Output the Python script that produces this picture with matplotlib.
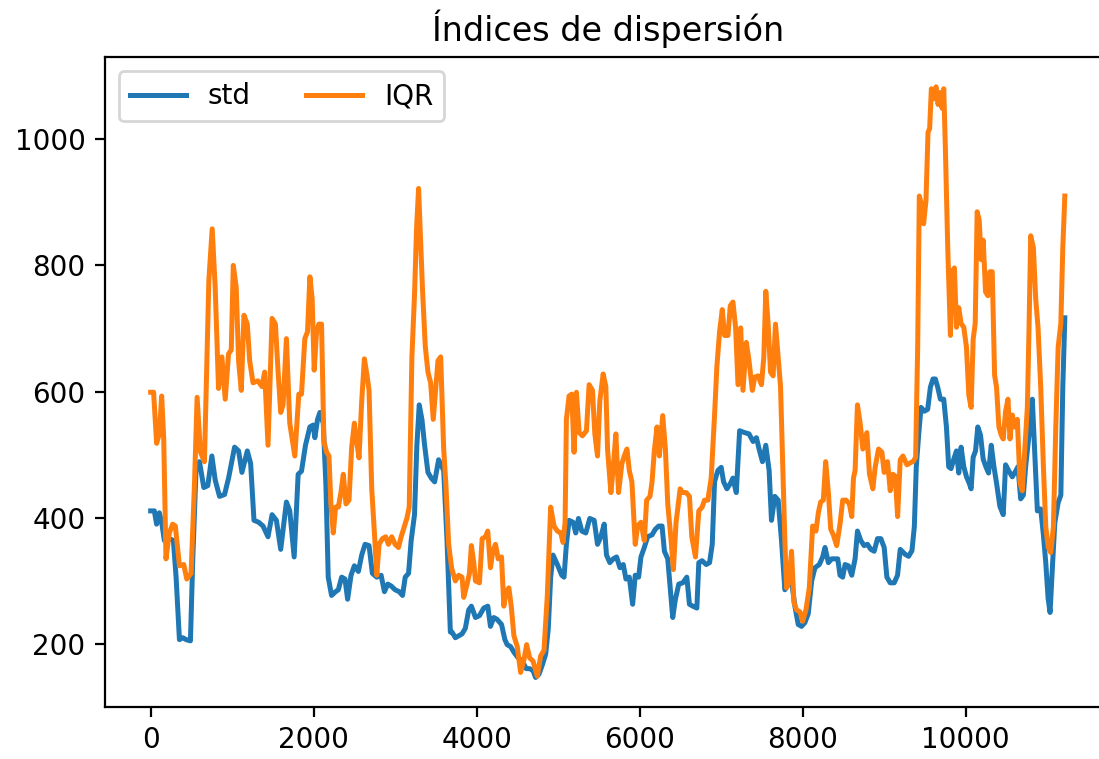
import matplotlib
matplotlib.use('Agg')
import matplotlib.pyplot as plt

# Datos (índice de muestra, valor)
std_x = [0, 45, 73, 106, 135, 168, 229, 279, 312, 353, 394, 435, 488, 517, 558, 599, 652, 701, 751, 792,
         845, 907, 956, 1030, 1079, 1120, 1186, 1227, 1268, 1325, 1379, 1440, 1490, 1543, 1596, 1666, 1707, 1761, 1810,
         1851, 1900, 1954, 1995, 2015, 2048, 2077, 2118, 2151, 2179, 2220, 2270, 2303, 2344, 2385, 2417, 2459, 2500,
         2549, 2590, 2631, 2680, 2721, 2775, 2828, 2869, 2910, 2951, 3000, 3050, 3091, 3124, 3165, 3197, 3238, 3267,
         3296, 3329, 3362, 3403, 3444, 3485, 3534, 3596, 3637, 3678,
         3698, 3739, 3780, 3821, 3862, 3903, 3936, 3986, 4035, 4088, 4137, 4170, 4211, 4252, 4306, 4347, 4375, 4417,
         4458, 4511, 4560, 4609, 4651, 4692, 4724, 4765, 4807, 4848, 4880, 4909, 4938, 4991, 5045, 5073, 5102, 5135,
         5184, 5217, 5250, 5291, 5340, 5389, 5443, 5484,
         5525, 5566, 5594, 5635, 5677, 5718, 5759, 5800, 5833, 5874, 5915, 5947, 5988, 6017, 6058, 6099, 6153, 6194,
         6235, 6276, 6305, 6346, 6374, 6407, 6440, 6481, 6530, 6580, 6612, 6654, 6703, 6727, 6768, 6818, 6859, 6892,
         6920, 6961, 7002, 7031, 7072, 7113, 7146, 7187, 7228, 7290, 7343,
         7393, 7434, 7467, 7508, 7549, 7590, 7619, 7660, 7701, 7742, 7783, 7824, 7865, 7906, 7947, 7988, 8029, 8070,
         8112, 8153, 8206, 8247, 8276, 8317, 8358, 8399, 8432, 8460, 8493, 8522, 8563, 8604, 8645, 8674, 8715, 8756,
         8797, 8838, 8879, 8920, 8961, 9002, 9035, 9076, 9125, 9166, 9199,
         9261, 9302, 9343, 9372, 9396, 9425, 9454, 9495, 9536, 9569, 9601, 9630, 9659, 9692, 9733, 9766, 9794, 9823,
         9856, 9889, 9917, 9946, 9979, 10012, 10045, 10069, 10094, 10123, 10151, 10184, 10217, 10250, 10283, 10316,
         10349, 10381, 10422, 10463, 10492, 10533, 10574, 10615, 10644, 10677, 10710, 10738, 10779, 10820, 10849,
         10882, 10923, 10956, 10985, 11014, 11038, 11067, 11096, 11137, 11170, 11194, 11219]
std_y = [411, 411, 390, 408, 393, 364, 367, 364, 306, 207, 210, 207, 205, 335, 480, 489, 448, 451, 498, 460,
         434, 437, 463, 512, 506, 472, 506, 486, 396, 393, 387, 370, 405, 396, 350, 425, 411, 338, 469,
         474, 515, 544, 547, 527, 556, 567, 550, 451, 306, 277, 283, 286, 306, 303, 271, 309, 324,
         315, 341, 358, 356, 312, 306, 309, 283, 295, 292, 286, 283, 277, 306, 312, 364, 405, 515,
         579, 556, 515, 472, 463, 457, 492, 475, 364, 219,
         219, 210, 213, 216, 225, 254, 260, 242, 245, 257, 260, 228, 242, 239, 231, 207, 199, 196,
         187, 178, 173, 161, 161, 158, 147, 152, 167, 184, 225, 306, 341, 326, 309, 306, 358, 396,
         393, 376, 399, 379, 376, 399, 396, 358,
         370, 390, 341, 329, 335, 338, 321, 326, 303, 306, 263, 309, 306, 338, 353, 370, 373, 382,
         387, 387, 347, 335, 292, 242, 271, 295, 297, 306, 263, 260, 257, 329, 332, 326, 329, 358,
         457, 475, 480, 457, 446, 454, 463, 440, 538, 535, 533,
         521, 527, 509, 489, 515, 475, 396, 434, 428, 364, 286, 295, 300, 260, 231, 228, 234, 248,
         300, 321, 326, 338, 353, 329, 335, 335, 335, 309, 306, 326, 324, 309, 335, 379, 364, 356,
         358, 350, 347, 367, 367, 353, 306, 297, 297, 309, 350,
         342, 339, 348, 386, 481, 531, 575, 569, 572, 607, 620, 620, 607, 588, 588, 544, 481, 478,
         493, 506, 471, 512, 481, 465, 455, 446, 496, 506, 544, 531, 493, 481, 471, 515,
         481, 455, 418, 405, 484, 474, 465, 474, 481, 430, 436, 481, 531, 588, 506,
         411, 414, 373, 329, 272, 250, 323, 392, 424, 436, 607, 717]

iqr_x = [0, 36, 73, 106, 135, 160, 188, 229, 270, 303, 353, 406, 443, 496, 537, 570, 611, 660, 714, 755,
         792, 833, 874, 915, 956, 989, 1014, 1050, 1079, 1112, 1145, 1186, 1215, 1256, 1317, 1366, 1399, 1440,
         1490, 1531, 1564, 1596, 1625, 1666, 1707, 1769, 1818,
         1851, 1892, 1925, 1954, 1982, 2007, 2036, 2064, 2097, 2126, 2159, 2188, 2212, 2241, 2270, 2303, 2335,
         2364, 2397, 2434, 2467, 2500, 2528, 2557, 2590, 2623, 2656, 2680, 2713, 2746, 2775, 2803, 2844, 2885,
         2918, 2959, 3000, 3041, 3074, 3115, 3144, 3173, 3206, 3238, 3263, 3288, 3312, 3337, 3370, 3403, 3436,
         3468, 3501, 3526, 3559, 3596, 3624, 3657, 3690,
         3698, 3739, 3780, 3821, 3842, 3883, 3912, 3936, 3965, 3986, 4035, 4068, 4109, 4137, 4170, 4199, 4232,
         4265, 4306, 4334, 4363, 4396, 4425, 4458, 4499, 4540, 4581, 4614, 4651, 4692, 4745, 4786, 4827, 4868,
         4909, 4950, 4991, 5032, 5061, 5086, 5102, 5135, 5168, 5196, 5225, 5258, 5299, 5348, 5381, 5422, 5451, 5484,
         5512, 5553, 5586, 5607, 5648, 5677, 5709, 5742, 5783, 5812, 5845, 5874, 5906, 5947, 5976, 6017, 6058,
         6087, 6128, 6153, 6181, 6214, 6243, 6284, 6317, 6346, 6387, 6415, 6448, 6498, 6530, 6571, 6612, 6641,
         6686, 6727, 6768, 6797, 6838, 6879, 6920, 6949, 6982, 7015, 7043, 7085, 7113, 7146, 7179, 7208, 7241,
         7269, 7310, 7343,
         7384, 7414, 7455, 7496, 7525, 7549, 7578, 7607, 7639, 7668, 7701, 7730, 7754, 7783, 7804, 7836, 7865,
         7894, 7927, 7968, 8001, 8042, 8083, 8124, 8165, 8194, 8222, 8255, 8284, 8317, 8346, 8378, 8419, 8460,
         8493, 8534, 8575, 8604, 8625, 8645, 8674, 8707, 8740, 8789, 8822, 8863, 8891, 8933, 8974, 9002, 9043,
         9076, 9109, 9138, 9167, 9199, 9232,
         9281, 9322, 9363, 9388, 9413, 9433, 9458, 9486, 9515, 9540, 9560, 9581, 9610, 9638, 9663, 9692, 9712,
         9733, 9753, 9782, 9815, 9835, 9864, 9889, 9917, 9946, 9979, 10012, 10041, 10069, 10094, 10119, 10143,
         10168, 10193, 10217, 10246, 10275, 10299, 10328, 10357, 10381, 10410, 10439, 10463, 10492, 10521, 10546,
         10574, 10603, 10636, 10669, 10697, 10726, 10759, 10780, 10800, 10833, 10862, 10890, 10923, 10956, 10985,
         11014, 11046, 11079, 11108, 11137, 11170, 11194, 11219]
iqr_y = [599, 599, 518, 533, 593, 527, 335, 376, 390, 387, 324, 326, 303, 312, 451, 591, 504, 489, 776, 858,
         765, 605, 655, 588, 660, 666, 800, 765, 649, 602, 721, 707, 649, 614, 617, 608, 631, 515,
         716, 707, 631, 567, 579, 684, 550, 498, 596,
         596, 684, 695, 782, 747, 634, 695, 707, 707, 521, 504, 498, 422, 376, 417, 417, 440,
         469, 422, 428, 512, 550, 521, 495, 585, 652, 625, 602, 446, 376, 309, 358, 367, 370,
         358, 370, 358, 353, 370, 387, 399, 417, 655, 753, 858, 922, 840, 759, 672, 631, 614,
         556, 608, 649, 655, 509, 451, 358, 324,
         318, 300, 309, 306, 274, 295, 312, 356, 329, 300, 297, 367, 370, 379, 321, 347, 358,
         335, 338, 260, 283, 289, 260, 213, 196, 155, 175, 199, 178, 173, 149, 181, 190, 277,
         417, 387, 379, 376, 361, 393, 556, 593, 596, 504, 599, 535, 530, 538, 611, 602, 533, 498,
         585, 628, 608, 509, 440, 480, 533, 440, 486, 498, 509, 475, 457, 358, 387, 393, 364,
         428, 434, 457, 506, 544, 498, 562, 509, 422, 364, 318, 393, 446, 440, 440, 434, 370,
         338, 411, 417, 428, 428, 463, 562, 640, 695, 730, 689, 689, 736, 742, 701, 611, 701,
         602, 678, 649,
         602, 623, 625, 611, 655, 759, 707, 631, 625, 707, 655, 608, 498, 364, 289, 300, 347,
         266, 254, 251, 236, 254, 289, 387, 379, 408, 425, 428, 489, 440, 382, 373, 356, 390,
         428, 428, 422, 402, 463, 475, 579, 550, 509, 535, 469, 446, 480, 509, 504, 472, 489,
         443, 469, 466, 402, 492, 498,
         484, 487, 490, 496, 670, 910, 897, 866, 903, 1011, 1017, 1080, 1064, 1083, 1055, 1074, 1049,
         1080, 986, 828, 689, 790, 796, 702, 733, 708, 702, 670, 594, 575, 683, 708, 885,
         872, 809, 840, 758, 752, 790, 790, 626, 607, 544, 531, 525, 569, 588, 525,
         563, 544, 556, 455, 443, 506, 575, 702, 847, 828, 746, 702, 607, 481, 386,
         354, 345, 386, 544, 670, 708, 828, 910]

fig = plt.figure(figsize=(5.495, 3.795), dpi=200)
# el borde derecho del eje queda fuera de la imagen, como en el original
ax = fig.add_axes([0.0955, 0.0685, 0.915, 0.856])

ax.plot(std_x, std_y, label='std', linewidth=1.8)
ax.plot(iqr_x, iqr_y, label='IQR', linewidth=1.8)
ax.set_title('Índices de dispersión')
ax.legend(loc='upper left', ncol=2)

fig.savefig('out.png', dpi=200)
